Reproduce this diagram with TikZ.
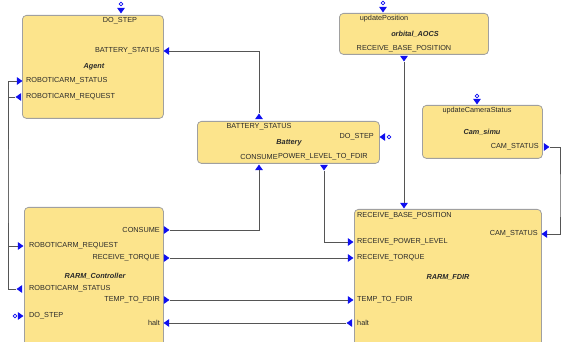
\documentclass[tikz,border=0pt]{standalone}
\usepackage{fontspec}
\setmainfont{Liberation Sans}
\usepackage{xcolor}
\usetikzlibrary{shapes.geometric}
\definecolor{boxfill}{HTML}{FCE48C}
\definecolor{boxline}{HTML}{A0A0A0}
\definecolor{ink}{HTML}{2A2A2A}
\definecolor{pin}{HTML}{1010F0}
\definecolor{wirec}{HTML}{555555}
\tikzset{
  box/.style={draw=boxline, fill=boxfill, line width=0.8pt, rounded corners=4pt, anchor=north west, inner sep=0pt},
  lab/.style={text=ink, inner sep=0pt, font=\fontsize{7.3}{8}\selectfont},
  title/.style={text=ink, inner sep=0pt, font=\fontsize{7.3}{8}\selectfont\bfseries\itshape},
  port/.style={isosceles triangle, isosceles triangle apex angle=70, fill=pin, inner sep=0pt, minimum height=5.5pt, minimum width=6.5pt, shape border rotate=#1},
  ev/.style={draw=pin, line width=0.7pt, circle, inner sep=0pt, minimum size=3.6pt},
  wire/.style={draw=wirec, line width=0.9pt},
}
\begin{document}
\begin{tikzpicture}[x=1pt, y=-1pt]
  \useasboundingbox (0,0) rectangle (563,342);
  \clip (0,0) rectangle (563,342);
  % component boxes
  \node[box, minimum width=141pt, minimum height=103pt] (agent) at (22,15) {};
  \node[box, minimum width=182pt, minimum height=42pt] (battery) at (197,121) {};
  \node[box, minimum width=149pt, minimum height=41pt] (aocs) at (339,13) {};
  \node[box, minimum width=120pt, minimum height=53pt] (cam) at (422,105) {};
  \node[box, minimum width=139pt, minimum height=150pt] (ctrl) at (24,207) {};
  \node[box, minimum width=187pt, minimum height=150pt] (fdir) at (354,209) {};
  % Agent
  \node[ev] (ag-do-e) at (121,4) {};
  \node[port=-90] (ag-do) at (121,10) {};
  \node[lab] (ag-do-t) at (120,21) {DO\_STEP};
  \node[port=180] (ag-bat) at (167,51) {};
  \node[lab, anchor=east] (ag-bat-t) at (160,51) {BATTERY\_STATUS};
  \node[title] (ag-name) at (94,67) {Agent};
  \node[port=0] (ag-rs) at (19,81) {};
  \node[lab, anchor=west] (ag-rs-t) at (26,81) {ROBOTICARM\_STATUS};
  \node[port=180] (ag-rr) at (19,97) {};
  \node[lab, anchor=west] (ag-rr-t) at (26,97) {ROBOTICARM\_REQUEST};
  % Battery
  \node[port=90] (bt-stat) at (259,117) {};
  \node[lab] (bt-stat-t) at (259,127) {BATTERY\_STATUS};
  \node[title] (bt-name) at (289,143) {Battery};
  \node[port=180] (bt-do) at (383,137) {};
  \node[ev] (bt-do-e) at (389,137) {};
  \node[lab, anchor=east] (bt-do-t) at (374,137) {DO\_STEP};
  \node[lab] (bt-cons-t) at (259,157) {CONSUME};
  \node[lab, anchor=west] (bt-pow-t) at (bt-cons-t.east) {POWER\_LEVEL\_TO\_FDIR};
  \node[port=90] (bt-cons) at (259,168) {};
  \node[port=-90] (bt-pow) at (324,167) {};
  % orbital_AOCS
  \node[ev] (ao-up-e) at (383,3) {};
  \node[port=-90] (ao-up) at (383,9) {};
  \node[lab] (ao-up-t) at (384,19) {updatePosition};
  \node[title] (ao-name) at (415,34) {orbital\_AOCS};
  \node[lab] (ao-rbp-t) at (404,49) {RECEIVE\_BASE\_POSITION};
  \node[port=-90] (ao-rbp) at (404,58) {};
  % Cam_simu
  \node[ev] (cam-up-e) at (477,96) {};
  \node[port=-90] (cam-up) at (477,101) {};
  \node[lab] (cam-up-t) at (477,111) {updateCameraStatus};
  \node[title] (cam-name) at (482,132) {Cam\_simu};
  \node[lab, anchor=east] (cam-st-t) at (539,147) {CAM\_STATUS};
  \node[port=0] (cam-st) at (546,147) {};
  % RARM_Controller
  \node[lab, anchor=east] (rc-cons-t) at (160,230) {CONSUME};
  \node[port=0] (rc-cons) at (166,230) {};
  \node[port=0] (rc-rr) at (20,246) {};
  \node[lab, anchor=west] (rc-rr-t) at (29,246) {ROBOTICARM\_REQUEST};
  \node[lab, anchor=east] (rc-rt-t) at (160,258) {RECEIVE\_TORQUE};
  \node[port=0] (rc-rt) at (166,258) {};
  \node[title] (rc-name) at (95,276) {RARM\_Controller};
  \node[port=180] (rc-rs) at (20,289) {};
  \node[lab, anchor=west] (rc-rs-t) at (29,289) {ROBOTICARM\_STATUS};
  \node[lab, anchor=east] (rc-temp-t) at (160,300) {TEMP\_TO\_FDIR};
  \node[port=0] (rc-temp) at (166,300) {};
  \node[ev] (rc-do-e) at (15,316) {};
  \node[port=0] (rc-do) at (20,316) {};
  \node[lab, anchor=west] (rc-do-t) at (29,316) {DO\_STEP};
  \node[lab, anchor=east] (rc-halt-t) at (160,323) {halt};
  \node[port=180] (rc-halt) at (167,323) {};
  % RARM_FDIR
  \node[port=-90] (fd-rbp) at (404,205) {};
  \node[lab, anchor=west] (fd-rbp-t) at (357,216) {RECEIVE\_BASE\_POSITION};
  \node[lab, anchor=east] (fd-cam-t) at (538,234) {CAM\_STATUS};
  \node[port=180] (fd-cam) at (545,234) {};
  \node[port=0] (fd-pow) at (350,242) {};
  \node[lab, anchor=west] (fd-pow-t) at (357,242) {RECEIVE\_POWER\_LEVEL};
  \node[port=0] (fd-rt) at (350,258) {};
  \node[lab, anchor=west] (fd-rt-t) at (357,258) {RECEIVE\_TORQUE};
  \node[title] (fd-name) at (448,277) {RARM\_FDIR};
  \node[port=0] (fd-temp) at (350,300) {};
  \node[lab, anchor=west] (fd-temp-t) at (357,300) {TEMP\_TO\_FDIR};
  \node[port=180] (fd-halt) at (350,323) {};
  \node[lab, anchor=west] (fd-halt-t) at (357,323) {halt};
  % connections
  \coordinate (lbus) at (8,200);
  \coordinate (rbus) at (560,200);
  \draw[wire] (bt-stat.north) |- (ag-bat.east);
  \draw[wire] (rc-cons.east) -| (bt-cons.south);
  \draw[wire] (bt-pow.south) |- (fd-pow.west);
  \draw[wire] (ao-rbp.south) -- (fd-rbp.north);
  \draw[wire] (cam-st.east) -| (rbus) |- (fd-cam.east);
  \draw[wire] (rc-rt.east) -- (fd-rt.west);
  \draw[wire] (rc-temp.east) -- (fd-temp.west);
  \draw[wire] (fd-halt.west) -- (rc-halt.east);
  \draw[wire] (rc-rs.west) -| (lbus) |- (ag-rs.west);
  \draw[wire] (ag-rr.west) -| (lbus) |- (rc-rr.west);
\end{tikzpicture}
\end{document}
